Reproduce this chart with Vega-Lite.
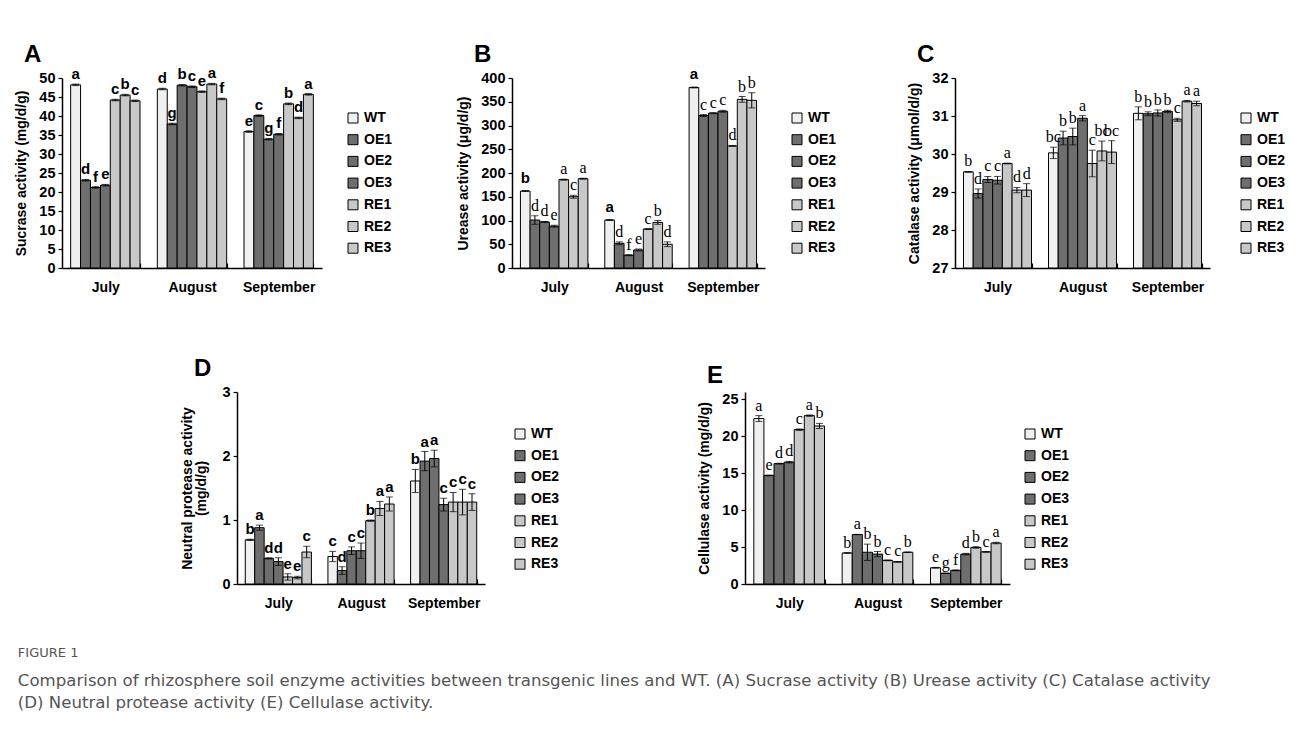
{
  "$schema": "https://vega.github.io/schema/vega-lite/v6.json",
  "padding": {"left": 14, "top": 43, "right": 5, "bottom": 5},
  "background": "white",
  "datasets": {
    "sucrase": [
      {"m": "July", "g": "WT", "v": 48.2, "lo": 48.0, "hi": 48.4, "t": "a"},
      {"m": "July", "g": "OE1", "v": 23.1, "lo": 22.9, "hi": 23.3, "t": "d"},
      {"m": "July", "g": "OE2", "v": 21.2, "lo": 21.0, "hi": 21.4, "t": "f"},
      {"m": "July", "g": "OE3", "v": 21.8, "lo": 21.6, "hi": 22.0, "t": "e"},
      {"m": "July", "g": "RE1", "v": 44.2, "lo": 44.0, "hi": 44.4, "t": "c"},
      {"m": "July", "g": "RE2", "v": 45.5, "lo": 45.3, "hi": 45.7, "t": "b"},
      {"m": "July", "g": "RE3", "v": 44.0, "lo": 43.8, "hi": 44.2, "t": "c"},
      {"m": "August", "g": "WT", "v": 47.1, "lo": 46.9, "hi": 47.3, "t": "d"},
      {"m": "August", "g": "OE1", "v": 37.9, "lo": 37.7, "hi": 38.1, "t": "g"},
      {"m": "August", "g": "OE2", "v": 48.1, "lo": 47.9, "hi": 48.3, "t": "b"},
      {"m": "August", "g": "OE3", "v": 47.7, "lo": 47.5, "hi": 47.9, "t": "c"},
      {"m": "August", "g": "RE1", "v": 46.4, "lo": 46.2, "hi": 46.6, "t": "e"},
      {"m": "August", "g": "RE2", "v": 48.4, "lo": 48.2, "hi": 48.6, "t": "a"},
      {"m": "August", "g": "RE3", "v": 44.5, "lo": 44.3, "hi": 44.7, "t": "f"},
      {"m": "September", "g": "WT", "v": 35.9, "lo": 35.7, "hi": 36.1, "t": "e"},
      {"m": "September", "g": "OE1", "v": 40.1, "lo": 39.9, "hi": 40.3, "t": "c"},
      {"m": "September", "g": "OE2", "v": 33.9, "lo": 33.7, "hi": 34.1, "t": "g"},
      {"m": "September", "g": "OE3", "v": 35.2, "lo": 35.0, "hi": 35.4, "t": "f"},
      {"m": "September", "g": "RE1", "v": 43.2, "lo": 43.0, "hi": 43.4, "t": "b"},
      {"m": "September", "g": "RE2", "v": 39.5, "lo": 39.3, "hi": 39.7, "t": "d"},
      {"m": "September", "g": "RE3", "v": 45.7, "lo": 45.5, "hi": 45.9, "t": "a"}
    ],
    "urease": [
      {"m": "July", "g": "WT", "v": 162, "lo": 161, "hi": 163, "t": "b"},
      {"m": "July", "g": "OE1", "v": 101, "lo": 92, "hi": 110, "t": "d"},
      {"m": "July", "g": "OE2", "v": 97, "lo": 96, "hi": 98, "t": "d"},
      {"m": "July", "g": "OE3", "v": 88, "lo": 86, "hi": 90, "t": "e"},
      {"m": "July", "g": "RE1", "v": 186, "lo": 185, "hi": 187, "t": "a"},
      {"m": "July", "g": "RE2", "v": 150, "lo": 147, "hi": 153, "t": "c"},
      {"m": "July", "g": "RE3", "v": 188, "lo": 187, "hi": 189, "t": "a"},
      {"m": "August", "g": "WT", "v": 101, "lo": 100, "hi": 102, "t": "a"},
      {"m": "August", "g": "OE1", "v": 52, "lo": 49, "hi": 55, "t": "d"},
      {"m": "August", "g": "OE2", "v": 27, "lo": 26, "hi": 28, "t": "f"},
      {"m": "August", "g": "OE3", "v": 38, "lo": 36, "hi": 40, "t": "e"},
      {"m": "August", "g": "RE1", "v": 82, "lo": 81, "hi": 83, "t": "c"},
      {"m": "August", "g": "RE2", "v": 96, "lo": 92, "hi": 100, "t": "b"},
      {"m": "August", "g": "RE3", "v": 50, "lo": 45, "hi": 55, "t": "d"},
      {"m": "September", "g": "WT", "v": 380, "lo": 379, "hi": 381, "t": "a"},
      {"m": "September", "g": "OE1", "v": 321, "lo": 319, "hi": 323, "t": "c"},
      {"m": "September", "g": "OE2", "v": 326, "lo": 325, "hi": 327, "t": "c"},
      {"m": "September", "g": "OE3", "v": 330, "lo": 328, "hi": 332, "t": "c"},
      {"m": "September", "g": "RE1", "v": 257, "lo": 256, "hi": 258, "t": "d"},
      {"m": "September", "g": "RE2", "v": 355, "lo": 349, "hi": 361, "t": "b"},
      {"m": "September", "g": "RE3", "v": 353, "lo": 337, "hi": 369, "t": "b"}
    ],
    "catalase": [
      {"m": "July", "g": "WT", "v": 29.53, "lo": 29.52, "hi": 29.54, "t": "b"},
      {"m": "July", "g": "OE1", "v": 28.96, "lo": 28.84, "hi": 29.08, "t": "d"},
      {"m": "July", "g": "OE2", "v": 29.33, "lo": 29.25, "hi": 29.41, "t": "c"},
      {"m": "July", "g": "OE3", "v": 29.31, "lo": 29.21, "hi": 29.41, "t": "c"},
      {"m": "July", "g": "RE1", "v": 29.75, "lo": 29.74, "hi": 29.76, "t": "a"},
      {"m": "July", "g": "RE2", "v": 29.05, "lo": 28.98, "hi": 29.12, "t": "d"},
      {"m": "July", "g": "RE3", "v": 29.05, "lo": 28.88, "hi": 29.22, "t": "d"},
      {"m": "August", "g": "WT", "v": 30.03, "lo": 29.88, "hi": 30.18, "t": "bc"},
      {"m": "August", "g": "OE1", "v": 30.42, "lo": 30.24, "hi": 30.6, "t": "b"},
      {"m": "August", "g": "OE2", "v": 30.46, "lo": 30.24, "hi": 30.68, "t": "b"},
      {"m": "August", "g": "OE3", "v": 30.94, "lo": 30.87, "hi": 31.01, "t": "a"},
      {"m": "August", "g": "RE1", "v": 29.75, "lo": 29.4, "hi": 30.1, "t": "c"},
      {"m": "August", "g": "RE2", "v": 30.08, "lo": 29.82, "hi": 30.34, "t": "bc"},
      {"m": "August", "g": "RE3", "v": 30.05, "lo": 29.75, "hi": 30.35, "t": "bc"},
      {"m": "September", "g": "WT", "v": 31.07, "lo": 30.9, "hi": 31.24, "t": "b"},
      {"m": "September", "g": "OE1", "v": 31.06, "lo": 31.01, "hi": 31.11, "t": "b"},
      {"m": "September", "g": "OE2", "v": 31.08, "lo": 31.0, "hi": 31.16, "t": "b"},
      {"m": "September", "g": "OE3", "v": 31.12, "lo": 31.09, "hi": 31.15, "t": "b"},
      {"m": "September", "g": "RE1", "v": 30.9, "lo": 30.86, "hi": 30.94, "t": "c"},
      {"m": "September", "g": "RE2", "v": 31.39, "lo": 31.37, "hi": 31.41, "t": "a"},
      {"m": "September", "g": "RE3", "v": 31.33, "lo": 31.27, "hi": 31.39, "t": "a"}
    ],
    "protease": [
      {"m": "July", "g": "WT", "v": 0.69, "lo": 0.68, "hi": 0.7, "t": "b"},
      {"m": "July", "g": "OE1", "v": 0.88, "lo": 0.84, "hi": 0.92, "t": "a"},
      {"m": "July", "g": "OE2", "v": 0.4, "lo": 0.39, "hi": 0.41, "t": "d"},
      {"m": "July", "g": "OE3", "v": 0.35, "lo": 0.29, "hi": 0.41, "t": "d"},
      {"m": "July", "g": "RE1", "v": 0.11, "lo": 0.06, "hi": 0.16, "t": "e"},
      {"m": "July", "g": "RE2", "v": 0.1, "lo": 0.08, "hi": 0.12, "t": "e"},
      {"m": "July", "g": "RE3", "v": 0.5, "lo": 0.41, "hi": 0.59, "t": "c"},
      {"m": "August", "g": "WT", "v": 0.43, "lo": 0.35, "hi": 0.51, "t": "c"},
      {"m": "August", "g": "OE1", "v": 0.21, "lo": 0.15, "hi": 0.27, "t": "d"},
      {"m": "August", "g": "OE2", "v": 0.52, "lo": 0.46, "hi": 0.58, "t": "c"},
      {"m": "August", "g": "OE3", "v": 0.52, "lo": 0.4, "hi": 0.64, "t": "c"},
      {"m": "August", "g": "RE1", "v": 0.99, "lo": 0.98, "hi": 1.0, "t": "b"},
      {"m": "August", "g": "RE2", "v": 1.18, "lo": 1.07, "hi": 1.29, "t": "a"},
      {"m": "August", "g": "RE3", "v": 1.25, "lo": 1.14, "hi": 1.36, "t": "a"},
      {"m": "September", "g": "WT", "v": 1.61, "lo": 1.43, "hi": 1.79, "t": "b"},
      {"m": "September", "g": "OE1", "v": 1.92, "lo": 1.77, "hi": 2.07, "t": "a"},
      {"m": "September", "g": "OE2", "v": 1.96, "lo": 1.83, "hi": 2.09, "t": "a"},
      {"m": "September", "g": "OE3", "v": 1.24, "lo": 1.14, "hi": 1.34, "t": "c"},
      {"m": "September", "g": "RE1", "v": 1.28, "lo": 1.13, "hi": 1.43, "t": "c"},
      {"m": "September", "g": "RE2", "v": 1.28, "lo": 1.08, "hi": 1.48, "t": "c"},
      {"m": "September", "g": "RE3", "v": 1.28, "lo": 1.15, "hi": 1.41, "t": "c"}
    ],
    "cellulase": [
      {"m": "July", "g": "WT", "v": 22.4, "lo": 22.0, "hi": 22.8, "t": "a"},
      {"m": "July", "g": "OE1", "v": 14.7, "lo": 14.65, "hi": 14.75, "t": "e"},
      {"m": "July", "g": "OE2", "v": 16.3, "lo": 16.25, "hi": 16.35, "t": "d"},
      {"m": "July", "g": "OE3", "v": 16.5, "lo": 16.4, "hi": 16.6, "t": "d"},
      {"m": "July", "g": "RE1", "v": 20.9, "lo": 20.8, "hi": 21.0, "t": "c"},
      {"m": "July", "g": "RE2", "v": 22.8, "lo": 22.7, "hi": 22.9, "t": "a"},
      {"m": "July", "g": "RE3", "v": 21.4, "lo": 21.05, "hi": 21.75, "t": "b"},
      {"m": "August", "g": "WT", "v": 4.2, "lo": 4.15, "hi": 4.25, "t": "b"},
      {"m": "August", "g": "OE1", "v": 6.7, "lo": 6.68, "hi": 6.72, "t": "a"},
      {"m": "August", "g": "OE2", "v": 4.3, "lo": 3.2, "hi": 5.4, "t": "b"},
      {"m": "August", "g": "OE3", "v": 4.05, "lo": 3.7, "hi": 4.4, "t": "b"},
      {"m": "August", "g": "RE1", "v": 3.2, "lo": 3.15, "hi": 3.25, "t": "c"},
      {"m": "August", "g": "RE2", "v": 3.0, "lo": 2.95, "hi": 3.05, "t": "c"},
      {"m": "August", "g": "RE3", "v": 4.3, "lo": 4.27, "hi": 4.33, "t": "b"},
      {"m": "September", "g": "WT", "v": 2.2, "lo": 2.15, "hi": 2.25, "t": "e"},
      {"m": "September", "g": "OE1", "v": 1.45, "lo": 1.42, "hi": 1.48, "t": "g"},
      {"m": "September", "g": "OE2", "v": 1.85, "lo": 1.8, "hi": 1.9, "t": "f"},
      {"m": "September", "g": "OE3", "v": 4.05, "lo": 3.95, "hi": 4.15, "t": "d"},
      {"m": "September", "g": "RE1", "v": 4.95, "lo": 4.85, "hi": 5.05, "t": "b"},
      {"m": "September", "g": "RE2", "v": 4.35, "lo": 4.3, "hi": 4.4, "t": "c"},
      {"m": "September", "g": "RE3", "v": 5.55, "lo": 5.45, "hi": 5.65, "t": "a"}
    ]
  },
  "title": {
    "text": "FIGURE 1",
    "subtitle": [
      "Comparison of rhizosphere soil enzyme activities between transgenic lines and WT. (A) Sucrase activity (B) Urease activity (C) Catalase activity",
      "(D) Neutral protease activity (E) Cellulase activity."
    ],
    "orient": "bottom",
    "anchor": "start",
    "frame": "bounds",
    "offset": 37,
    "dx": 3,
    "font": "DejaVu Sans",
    "fontSize": 13,
    "fontWeight": "normal",
    "color": "#555555",
    "subtitleFont": "DejaVu Sans",
    "subtitleFontSize": 16.6,
    "subtitleColor": "#555555",
    "subtitleLineHeight": 22,
    "subtitlePadding": 13
  },
  "spacing": 63,
  "resolve": {"scale": {"fill": "independent", "xOffset": "independent"}, "legend": {"fill": "independent"}},
  "vconcat": [
    {
      "spacing": 190,
      "bounds": "flush",
      "resolve": {"scale": {"fill": "independent", "xOffset": "independent"}, "legend": {"fill": "independent"}},
      "hconcat": [
        {
          "width": 260, "height": 190,
          "data": {"name": "sucrase"},
          "title": {"text": "A"},
          "resolve": {"axis": {"y": "independent"}},
          "encoding": {
            "x": {"field": "m", "type": "nominal", "sort": ["July", "August", "September"], "title": null, "scale": {"paddingInner": 0.2, "paddingOuter": 0.1}},
            "xOffset": {"field": "g", "type": "nominal", "sort": ["WT", "OE1", "OE2", "OE3", "RE1", "RE2", "RE3"], "scale": {"paddingInner": 0, "paddingOuter": 0}}
          },
          "layer": [
            {"mark": {"type": "bar", "stroke": "black", "strokeWidth": 1},
             "encoding": {
               "y": {"field": "v", "type": "quantitative", "title": "Sucrase activity (mg/d/g)", "scale": {"domain": [0, 50]}, "axis": {"values": [0, 5, 10, 15, 20, 25, 30, 35, 40, 45, 50]}},
               "fill": {"field": "g", "type": "nominal", "scale": {"domain": ["WT", "OE1", "OE2", "OE3", "RE1", "RE2", "RE3"], "range": ["#f0f0f0", "#6e6e6e", "#6e6e6e", "#6e6e6e", "#c8c8c8", "#c8c8c8", "#c8c8c8"]}, "legend": {"title": null, "legendX": 284, "legendY": 33}}
             }},
            {"mark": {"type": "rule", "color": "black", "strokeWidth": 1}, "encoding": {"y": {"field": "lo", "type": "quantitative", "axis": null}, "y2": {"field": "hi"}}},
            {"mark": {"type": "tick", "color": "black", "size": 7, "thickness": 1}, "encoding": {"y": {"field": "hi", "type": "quantitative", "axis": null}}},
            {"mark": {"type": "tick", "color": "black", "size": 7, "thickness": 1}, "encoding": {"y": {"field": "lo", "type": "quantitative", "axis": null}}},
            {"mark": {"type": "text", "baseline": "bottom", "dy": -2, "font": "Liberation Sans", "fontWeight": "bold", "fontSize": 15, "color": "black"}, "encoding": {"y": {"field": "hi", "type": "quantitative", "axis": null}, "text": {"field": "t"}}}
          ]
        },
        {
          "width": 253, "height": 190,
          "data": {"name": "urease"},
          "title": {"text": "B", "dy": -1},
          "resolve": {"axis": {"y": "independent"}},
          "encoding": {
            "x": {"field": "m", "type": "nominal", "sort": ["July", "August", "September"], "title": null, "scale": {"paddingInner": 0.2, "paddingOuter": 0.1}},
            "xOffset": {"field": "g", "type": "nominal", "sort": ["WT", "OE1", "OE2", "OE3", "RE1", "RE2", "RE3"], "scale": {"paddingInner": 0, "paddingOuter": 0}}
          },
          "layer": [
            {"mark": {"type": "bar", "stroke": "black", "strokeWidth": 1},
             "encoding": {
               "y": {"field": "v", "type": "quantitative", "title": "Urease activity (μg/d/g)", "scale": {"domain": [0, 400]}, "axis": {"values": [0, 50, 100, 150, 200, 250, 300, 350, 400]}},
               "fill": {"field": "g", "type": "nominal", "scale": {"domain": ["WT", "OE1", "OE2", "OE3", "RE1", "RE2", "RE3"], "range": ["#f0f0f0", "#6e6e6e", "#6e6e6e", "#6e6e6e", "#c8c8c8", "#c8c8c8", "#c8c8c8"]}, "legend": {"title": null, "legendX": 278, "legendY": 33}}
             }},
            {"mark": {"type": "rule", "color": "black", "strokeWidth": 1}, "encoding": {"y": {"field": "lo", "type": "quantitative", "axis": null}, "y2": {"field": "hi"}}},
            {"mark": {"type": "tick", "color": "black", "size": 7, "thickness": 1}, "encoding": {"y": {"field": "hi", "type": "quantitative", "axis": null}}},
            {"mark": {"type": "tick", "color": "black", "size": 7, "thickness": 1}, "encoding": {"y": {"field": "lo", "type": "quantitative", "axis": null}}},
            {"transform": [{"filter": "datum.g === 'WT'"}],
             "mark": {"type": "text", "baseline": "bottom", "dy": -5, "font": "Liberation Sans", "fontWeight": "bold", "fontSize": 15, "color": "black"}, "encoding": {"y": {"field": "hi", "type": "quantitative", "axis": null}, "text": {"field": "t"}}},
            {"transform": [{"filter": "datum.g !== 'WT'"}],
             "mark": {"type": "text", "baseline": "bottom", "dy": -2, "font": "Liberation Serif", "fontSize": 16, "color": "black"}, "encoding": {"y": {"field": "hi", "type": "quantitative", "axis": null}, "text": {"field": "t"}}}
          ]
        },
        {
          "width": 255, "height": 190,
          "data": {"name": "catalase"},
          "title": {"text": "C", "dy": -4},
          "resolve": {"axis": {"y": "independent"}},
          "encoding": {
            "x": {"field": "m", "type": "nominal", "sort": ["July", "August", "September"], "title": null, "scale": {"paddingInner": 0.2, "paddingOuter": 0.1}},
            "xOffset": {"field": "g", "type": "nominal", "sort": ["WT", "OE1", "OE2", "OE3", "RE1", "RE2", "RE3"], "scale": {"paddingInner": 0, "paddingOuter": 0}}
          },
          "layer": [
            {"mark": {"type": "bar", "stroke": "black", "strokeWidth": 1},
             "encoding": {
               "y": {"field": "v", "type": "quantitative", "title": "Catalase activity (μmol/d/g)", "scale": {"domain": [27, 32], "zero": false, "clamp": true}, "axis": {"values": [27, 28, 29, 30, 31, 32]}},
               "fill": {"field": "g", "type": "nominal", "scale": {"domain": ["WT", "OE1", "OE2", "OE3", "RE1", "RE2", "RE3"], "range": ["#f0f0f0", "#6e6e6e", "#6e6e6e", "#6e6e6e", "#c8c8c8", "#c8c8c8", "#c8c8c8"]}, "legend": {"title": null, "legendX": 284, "legendY": 33}}
             }},
            {"mark": {"type": "rule", "color": "black", "strokeWidth": 1}, "encoding": {"y": {"field": "lo", "type": "quantitative", "axis": null}, "y2": {"field": "hi"}}},
            {"mark": {"type": "tick", "color": "black", "size": 7, "thickness": 1}, "encoding": {"y": {"field": "hi", "type": "quantitative", "axis": null}}},
            {"mark": {"type": "tick", "color": "black", "size": 7, "thickness": 1}, "encoding": {"y": {"field": "lo", "type": "quantitative", "axis": null}}},
            {"mark": {"type": "text", "baseline": "bottom", "dy": -2, "font": "Liberation Serif", "fontSize": 16, "color": "black"}, "encoding": {"y": {"field": "hi", "type": "quantitative", "axis": null}, "text": {"field": "t"}}}
          ]
        }
      ]
    },
    {
      "spacing": 95,
      "resolve": {"scale": {"fill": "independent", "xOffset": "independent"}, "legend": {"fill": "independent"}},
      "hconcat": [
        {"width": 23, "height": 10, "data": {"values": []}, "mark": {"type": "point", "opacity": 0}},
        {
          "spacing": 137,
          "resolve": {"scale": {"fill": "independent", "xOffset": "independent"}, "legend": {"fill": "independent"}},
          "hconcat": [
            {
              "width": 248, "height": 192,
              "data": {"name": "protease"},
              "title": {"text": "D", "dy": -4, "dx": -43},
              "resolve": {"axis": {"y": "independent"}},
              "encoding": {
                "x": {"field": "m", "type": "nominal", "sort": ["July", "August", "September"], "title": null, "scale": {"paddingInner": 0.2, "paddingOuter": 0.1}},
                "xOffset": {"field": "g", "type": "nominal", "sort": ["WT", "OE1", "OE2", "OE3", "RE1", "RE2", "RE3"], "scale": {"paddingInner": 0, "paddingOuter": 0}}
              },
              "layer": [
                {"mark": {"type": "bar", "stroke": "black", "strokeWidth": 1},
                 "encoding": {
                   "y": {"field": "v", "type": "quantitative", "title": "Neutral protease activity", "scale": {"domain": [0, 3]}, "axis": {"values": [0, 1, 2, 3], "titlePadding": 27}},
                   "fill": {"field": "g", "type": "nominal", "scale": {"domain": ["WT", "OE1", "OE2", "OE3", "RE1", "RE2", "RE3"], "range": ["#f0f0f0", "#6e6e6e", "#6e6e6e", "#6e6e6e", "#c8c8c8", "#c8c8c8", "#c8c8c8"]}, "legend": {"title": null, "legendX": 276, "legendY": 35}}
                 }},
                {"mark": {"type": "rule", "color": "black", "strokeWidth": 1}, "encoding": {"y": {"field": "lo", "type": "quantitative", "title": "(mg/d/g)", "axis": {"orient": "left", "labels": false, "ticks": false, "domain": false, "titlePadding": 29}}, "y2": {"field": "hi"}}},
                {"mark": {"type": "tick", "color": "black", "size": 7, "thickness": 1}, "encoding": {"y": {"field": "hi", "type": "quantitative", "axis": null}}},
                {"mark": {"type": "tick", "color": "black", "size": 7, "thickness": 1}, "encoding": {"y": {"field": "lo", "type": "quantitative", "axis": null}}},
                {"mark": {"type": "text", "baseline": "bottom", "dy": -2, "font": "Liberation Sans", "fontWeight": "bold", "fontSize": 15, "color": "black"}, "encoding": {"y": {"field": "hi", "type": "quantitative", "axis": null}, "text": {"field": "t"}}}
              ]
            },
            {
              "width": 265, "height": 192,
              "data": {"name": "cellulase"},
              "title": {"text": "E", "dy": -4},
              "resolve": {"axis": {"y": "independent"}},
              "encoding": {
                "x": {"field": "m", "type": "nominal", "sort": ["July", "August", "September"], "title": null, "scale": {"paddingInner": 0.2, "paddingOuter": 0.1}},
                "xOffset": {"field": "g", "type": "nominal", "sort": ["WT", "OE1", "OE2", "OE3", "RE1", "RE2", "RE3"], "scale": {"paddingInner": 0, "paddingOuter": 0}}
              },
              "layer": [
                {"mark": {"type": "bar", "stroke": "black", "strokeWidth": 1},
                 "encoding": {
                   "y": {"field": "v", "type": "quantitative", "title": "Cellulase activity (mg/d/g)", "scale": {"domain": [0, 25]}, "axis": {"values": [0, 5, 10, 15, 20, 25]}},
                   "fill": {"field": "g", "type": "nominal", "scale": {"domain": ["WT", "OE1", "OE2", "OE3", "RE1", "RE2", "RE3"], "range": ["#f0f0f0", "#6e6e6e", "#6e6e6e", "#6e6e6e", "#c8c8c8", "#c8c8c8", "#c8c8c8"]}, "legend": {"title": null, "legendX": 278, "legendY": 35}}
                 }},
                {"mark": {"type": "rule", "color": "black", "strokeWidth": 1}, "encoding": {"y": {"field": "lo", "type": "quantitative", "axis": null}, "y2": {"field": "hi"}}},
                {"mark": {"type": "tick", "color": "black", "size": 7, "thickness": 1}, "encoding": {"y": {"field": "hi", "type": "quantitative", "axis": null}}},
                {"mark": {"type": "tick", "color": "black", "size": 7, "thickness": 1}, "encoding": {"y": {"field": "lo", "type": "quantitative", "axis": null}}},
                {"mark": {"type": "text", "baseline": "bottom", "dy": -2, "font": "Liberation Serif", "fontSize": 16, "color": "black"}, "encoding": {"y": {"field": "hi", "type": "quantitative", "axis": null}, "text": {"field": "t"}}}
              ]
            }
          ]
        }
      ]
    }
  ],
  "config": {
    "view": {"stroke": null},
    "font": "Liberation Sans",
    "title": {"anchor": "start", "frame": "group", "font": "Liberation Sans", "fontSize": 24, "fontWeight": "bold", "color": "black", "offset": -1, "dx": -38},
    "axis": {"domainColor": "black", "domainWidth": 1.5, "tickColor": "black", "tickWidth": 1.2, "labelColor": "black", "labelFont": "Liberation Sans", "labelFontWeight": "bold", "labelFontSize": 14.5, "titleFont": "Liberation Sans", "titleFontWeight": "bold", "titleFontSize": 14, "titleColor": "black", "grid": false},
    "axisX": {"labelFontSize": 14, "tickBand": "extent", "tickSize": -5, "labelPadding": 17, "labelAngle": 0},
    "axisY": {"tickSize": 4, "labelPadding": 3, "titlePadding": 10, "labelOverlap": false},
    "legend": {"orient": "none", "direction": "vertical", "symbolType": "square", "symbolSize": 100, "symbolStrokeColor": "black", "symbolStrokeWidth": 1, "labelFont": "Liberation Sans", "labelFontWeight": "bold", "labelFontSize": 14, "labelColor": "black", "rowPadding": 7.7, "labelOffset": 4, "padding": 0}
  }
}
